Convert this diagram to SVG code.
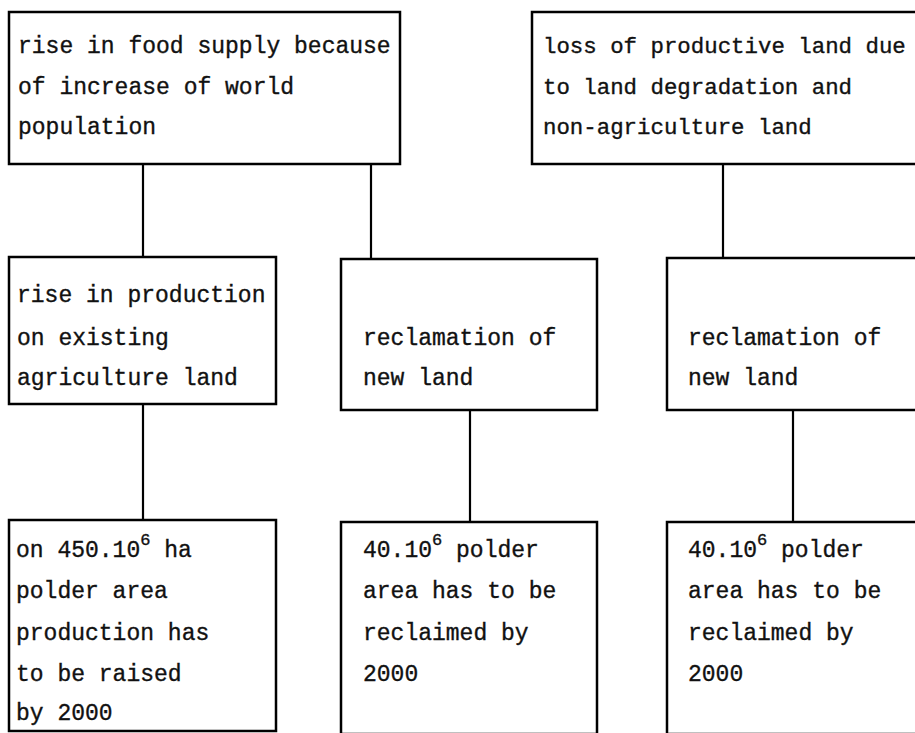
<svg xmlns="http://www.w3.org/2000/svg" width="915" height="733" viewBox="0 0 915 733">
<style>
.box{fill:#fff;stroke:#000;stroke-width:2.5}
.con line{stroke:#000;stroke-width:2.2}
text{font-family:"Liberation Mono","Courier New",monospace;font-size:23px;fill:#111;stroke:#111;stroke-width:0.35}
.sup{font-size:17px}
.tr{font-size:22.4px}
</style>
<rect width="915" height="733" fill="#fff"/>
<g id="connectors" class="con">
<line x1="143" y1="164" x2="143" y2="257"/>
<line x1="371" y1="164" x2="371" y2="259"/>
<line x1="723" y1="164" x2="723" y2="258"/>
<line x1="143" y1="404" x2="143" y2="520"/>
<line x1="470" y1="410" x2="470" y2="522"/>
<line x1="793" y1="410" x2="793" y2="522"/>
</g>
<g id="food-supply">
<rect class="box" x="9" y="12" width="391" height="152"/>
<text x="18" y="53">rise in food supply because</text>
<text x="18" y="94">of increase of world</text>
<text x="18" y="134">population</text>
</g>
<g id="loss-land">
<rect class="box" x="532" y="12" width="400" height="152"/>
<text class="tr" x="543" y="53">loss of productive land due</text>
<text class="tr" x="543" y="94">to land degradation and</text>
<text class="tr" x="543" y="134">non-agriculture land</text>
</g>
<g id="rise-production">
<rect class="box" x="9" y="257" width="267" height="147"/>
<text x="17" y="302">rise in production</text>
<text x="17" y="345">on existing</text>
<text x="17" y="385">agriculture land</text>
</g>
<g id="reclamation-1">
<rect class="box" x="341" y="259" width="256" height="151"/>
<text x="363" y="345">reclamation of</text>
<text x="363" y="385">new land</text>
</g>
<g id="reclamation-2">
<rect class="box" x="667" y="258" width="260" height="152"/>
<text x="688" y="345">reclamation of</text>
<text x="688" y="385">new land</text>
</g>
<g id="raise-450">
<rect class="box" x="9" y="520" width="267" height="211"/>
<text x="16" y="557">on 450.10<tspan class="sup" dy="-12">6</tspan><tspan dy="12"> ha</tspan></text>
<text x="16" y="598">polder area</text>
<text x="16" y="640">production has</text>
<text x="16" y="681">to be raised</text>
<text x="16" y="720">by 2000</text>
</g>
<g id="reclaim-40-1">
<rect class="box" x="341" y="522" width="256" height="212"/>
<text x="363" y="557">40.10<tspan class="sup" dy="-12">6</tspan><tspan dy="12"> polder</tspan></text>
<text x="363" y="598">area has to be</text>
<text x="363" y="640">reclaimed by</text>
<text x="363" y="681">2000</text>
</g>
<g id="reclaim-40-2">
<rect class="box" x="667" y="522" width="260" height="212"/>
<text x="688" y="557">40.10<tspan class="sup" dy="-12">6</tspan><tspan dy="12"> polder</tspan></text>
<text x="688" y="598">area has to be</text>
<text x="688" y="640">reclaimed by</text>
<text x="688" y="681">2000</text>
</g>
</svg>
